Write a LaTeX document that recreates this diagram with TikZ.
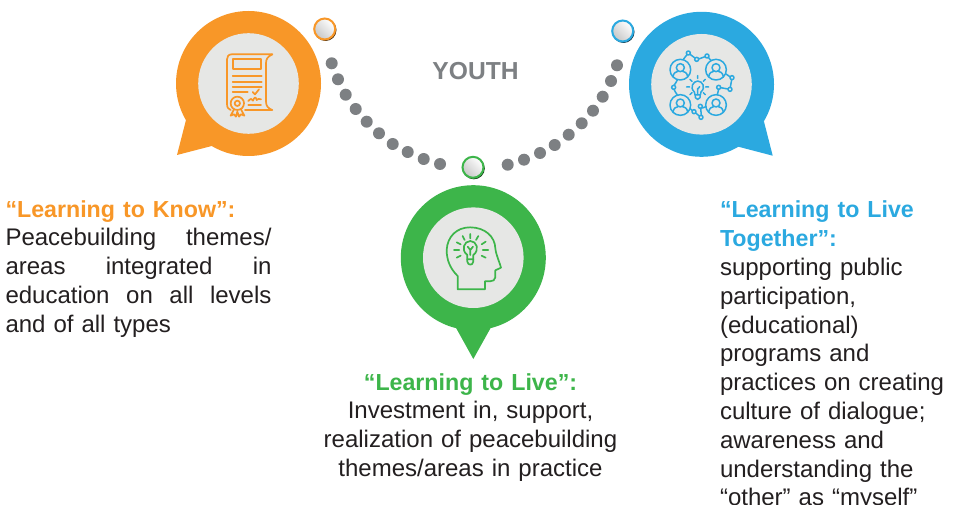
\documentclass[tikz,border=0pt]{standalone}
\usepackage{fontspec}
\setmainfont{Liberation Sans}
\definecolor{korange}{HTML}{F89728}
\definecolor{kblue}{HTML}{2BA9E0}
\definecolor{kgreen}{HTML}{3DB54A}
\definecolor{kinner}{HTML}{E6E7E5}
\definecolor{kgray}{HTML}{7D8083}
\definecolor{ktext}{HTML}{231F20}
\newcommand{\ktitle}[2]{{\color{#1}\fontsize{23.2}{28.8}\selectfont\bfseries #2}}
\tikzset{
  bubble/.style={circle,minimum size=145pt,inner sep=0pt,outer sep=0pt,fill=#1},
  innerdisc/.style={circle,minimum size=100.6pt,inner sep=0pt,outer sep=0pt,fill=kinner},
  dotnode/.style={circle,minimum size=12pt,inner sep=0pt,fill=kgray},
  ringnode/.style={circle,minimum size=21pt,inner sep=0pt,line width=2pt,draw=#1,top color=white,bottom color=black!22,shading angle=-45},
  ringshadow/.style={circle,minimum size=22pt,inner sep=0pt,fill=black!70!#1},
  icon/.style={line width=1.7pt,draw=#1,line cap=round,line join=round},
  body/.style={inner sep=0pt,outer sep=0pt,text=ktext,font=\fontsize{24}{28.8}\selectfont},
}
\begin{document}
\begin{tikzpicture}[x=1pt,y=-1pt]
\path[use as bounding box,fill=white] (0,0) rectangle (955,505);
\clip (0,0) rectangle (955,505);
% bubbles
\fill[korange] (186,120)--(177,155)--(211.7,146)--(248.5,83.5)--cycle;
\node[bubble=korange] (kb) at (248.5,83.5) {};
\node[innerdisc] (ki) at (248.5,83.5) {};
\fill[kblue] (764,121.7)--(772.7,155.7)--(738.3,146.7)--(701.5,84.3)--cycle;
\node[bubble=kblue] (tb) at (701.5,84.3) {};
\node[innerdisc] (ti) at (701.5,84.3) {};
\fill[kgreen] (455.7,327.3)--(473.3,359)--(491,327.3)--(473.3,257.7)--cycle;
\node[bubble=kgreen] (lb) at (473.3,257.7) {};
\node[innerdisc] (li) at (473.3,257.7) {};
% dots
\foreach \px/\py [count=\i] in {331.7/63.3,338/79.3,345.7/94.7,355.7/109,366.7/121.7,379/133.3,392.7/144,407.7/152,423.7/159,440/164,507.7/164.7,524/159.7,540/153,554.7/145,568.7/134.7,581.7/123.3,593/110.7,602.7/96.7,611/81,617/65.3}
  \node[dotnode] (d\i) at (\px,\py) {};
% small rings
\node[ringshadow=korange] (rs1) at (325.5,30) {};
\node[ringnode=korange] (r1) at (324.7,29) {};
\node[ringshadow=kblue] (rs2) at (623.5,32) {};
\node[ringnode=kblue] (r2) at (622.7,31) {};
\node[ringshadow=kgreen] (rs3) at (473.8,168.3) {};
\node[ringnode=kgreen] (r3) at (473,167.3) {};
% certificate icon
\begin{scope}[shift={(160,0)},scale=1/3,icon=korange]
\draw (337,163)--(215,163) .. controls (205,163) and (201,170) .. (201,178)--(201,312) .. controls (201,322) and (205,328) .. (212,330);
\draw (337,163) .. controls (322,170) and (318,178) .. (318,190)--(318,305) .. controls (318,318) and (325,326) .. (337,330)--(255,330);
\draw (218,178) rectangle (303,208);
\draw (218,229)--(305,229) (218,245)--(305,245) (218,260)--(305,260) (218,276)--(263,276);
\draw (278,276)--(285,283)--(297,268);
\draw (265,303) .. controls (272,295) and (276,295) .. (279,302) .. controls (283,290) and (288,290) .. (290,300) .. controls (293,296) and (298,296) .. (303,298);
\draw (265,315)--(303,315);
\draw[fill=kinner] (232,310) circle (20);
\draw (232,310) circle (8);
\draw (222,328)--(212,347)--(222,343)--(228,350)--(232,335)--(237,350)--(243,343)--(253,347)--(243,328);
\end{scope}
% network icon
\begin{scope}[shift={(600,0)},scale=1/3,icon=kblue,line width=1.5pt]
\foreach \cx/\cy in {241/209,348/209,241/315,348/315}{
  \draw (\cx,\cy) circle (31);
  \draw (\cx,\cy-6) circle (12);
  \draw (\cx-22,\cy+21) .. controls (\cx-20,\cy+8) and (\cx-12,\cy+6) .. (\cx-7,\cy+5);
  \draw (\cx+22,\cy+21) .. controls (\cx+20,\cy+8) and (\cx+12,\cy+6) .. (\cx+7,\cy+5);
}
\foreach \cx/\cy in {265/159,290/178,321/168,396/233,390/268,356/262,221/262,282/335,303/352,301/319}
  \draw (\cx,\cy) circle (6);
\draw (250,178)--(261,164) (270,163)--(285,174) (296,177)--(315,170) (325,172)--(333,182);
\draw (378,222)--(391,231) (395,239)--(391,262) (384,267)--(362,263) (356,268)--(352,284);
\draw (232,240) .. controls (228,248) and (225,252) .. (222,256) (222,268) .. controls (225,274) and (228,280) .. (232,285);
\draw (271,326)--(277,332) (287,339)--(298,348) (304,346)--(302,325) (307,324)--(318,320);
\draw (283,276) .. controls (268,262) and (280,244) .. (293,243) .. controls (308,244) and (318,262) .. (303,276)--(301,285)--(285,285)--cycle;
\draw (286,285)--(286,293) .. controls (288,300) and (298,300) .. (300,293)--(300,285);
\draw (293,284)--(293,265) (293,268)--(299,260);
\draw (293,227)--(293,235) (270,238)--(276,244) (316,238)--(310,244) (260,261)--(269,261) (317,261)--(326,261) (270,284)--(276,278) (316,284)--(310,278);
\end{scope}
% head icon
\begin{scope}[shift={(390,140)},scale=1/3,icon=kgreen]
\draw (203,448)--(203,408) .. controls (180,385) and (170,360) .. (170,330) .. controls (172,290) and (200,262) .. (240,262) .. controls (285,262) and (315,290) .. (316,325) .. controls (318,345) and (330,370) .. (333,383)--(316,391)--(316,412) .. controls (316,420) and (308,424) .. (300,424)--(285,424)--(285,448)--cycle;
\draw (232,345) .. controls (212,330) and (222,303) .. (241,303) .. controls (260,303) and (270,330) .. (250,345)--(250,365) .. controls (248,377) and (234,377) .. (232,365)--cycle;
\draw (232,358)--(250,358) (241,345)--(241,330) (241,330)--(233,320) (241,330)--(249,320);
\draw (241,282)--(241,295) (218,288)--(224,300) (265,288)--(258,300) (200,307)--(212,313) (287,305)--(275,313) (192,330)--(208,330) (295,330)--(278,330) (200,353)--(212,347) (287,353)--(275,347);
\end{scope}
% texts
\node[inner sep=0pt,text=kgray,font=\fontsize{24.6}{28}\selectfont\bfseries] (youth) at (475.5,71) {YOUTH};
\node[body,anchor=north west,text width=266pt,align=left] (know) at (5.5,200.3) {\ktitle{korange}{“Learning to Know”:}\\Peacebuilding\hfill themes/\\areas\hfill integrated\hfill in\\education\hfill on\hfill all\hfill levels\\and of all types};
\node[body,anchor=north,text width=320pt,align=center] (live) at (470.5,373.3) {\ktitle{kgreen}{“Learning to Live”:}\\Investment in, support,\\realization of peacebuilding\\themes/areas in practice};
\node[body,anchor=north west,text width=235pt,align=left] (together) at (720,201) {\ktitle{kblue}{“Learning to Live}\\\ktitle{kblue}{Together”:}\\supporting public\\participation,\\(educational)\\programs and\\practices on creating\\culture of dialogue;\\awareness and\\understanding the\\“other” as “myself”};
\end{tikzpicture}
\end{document}
